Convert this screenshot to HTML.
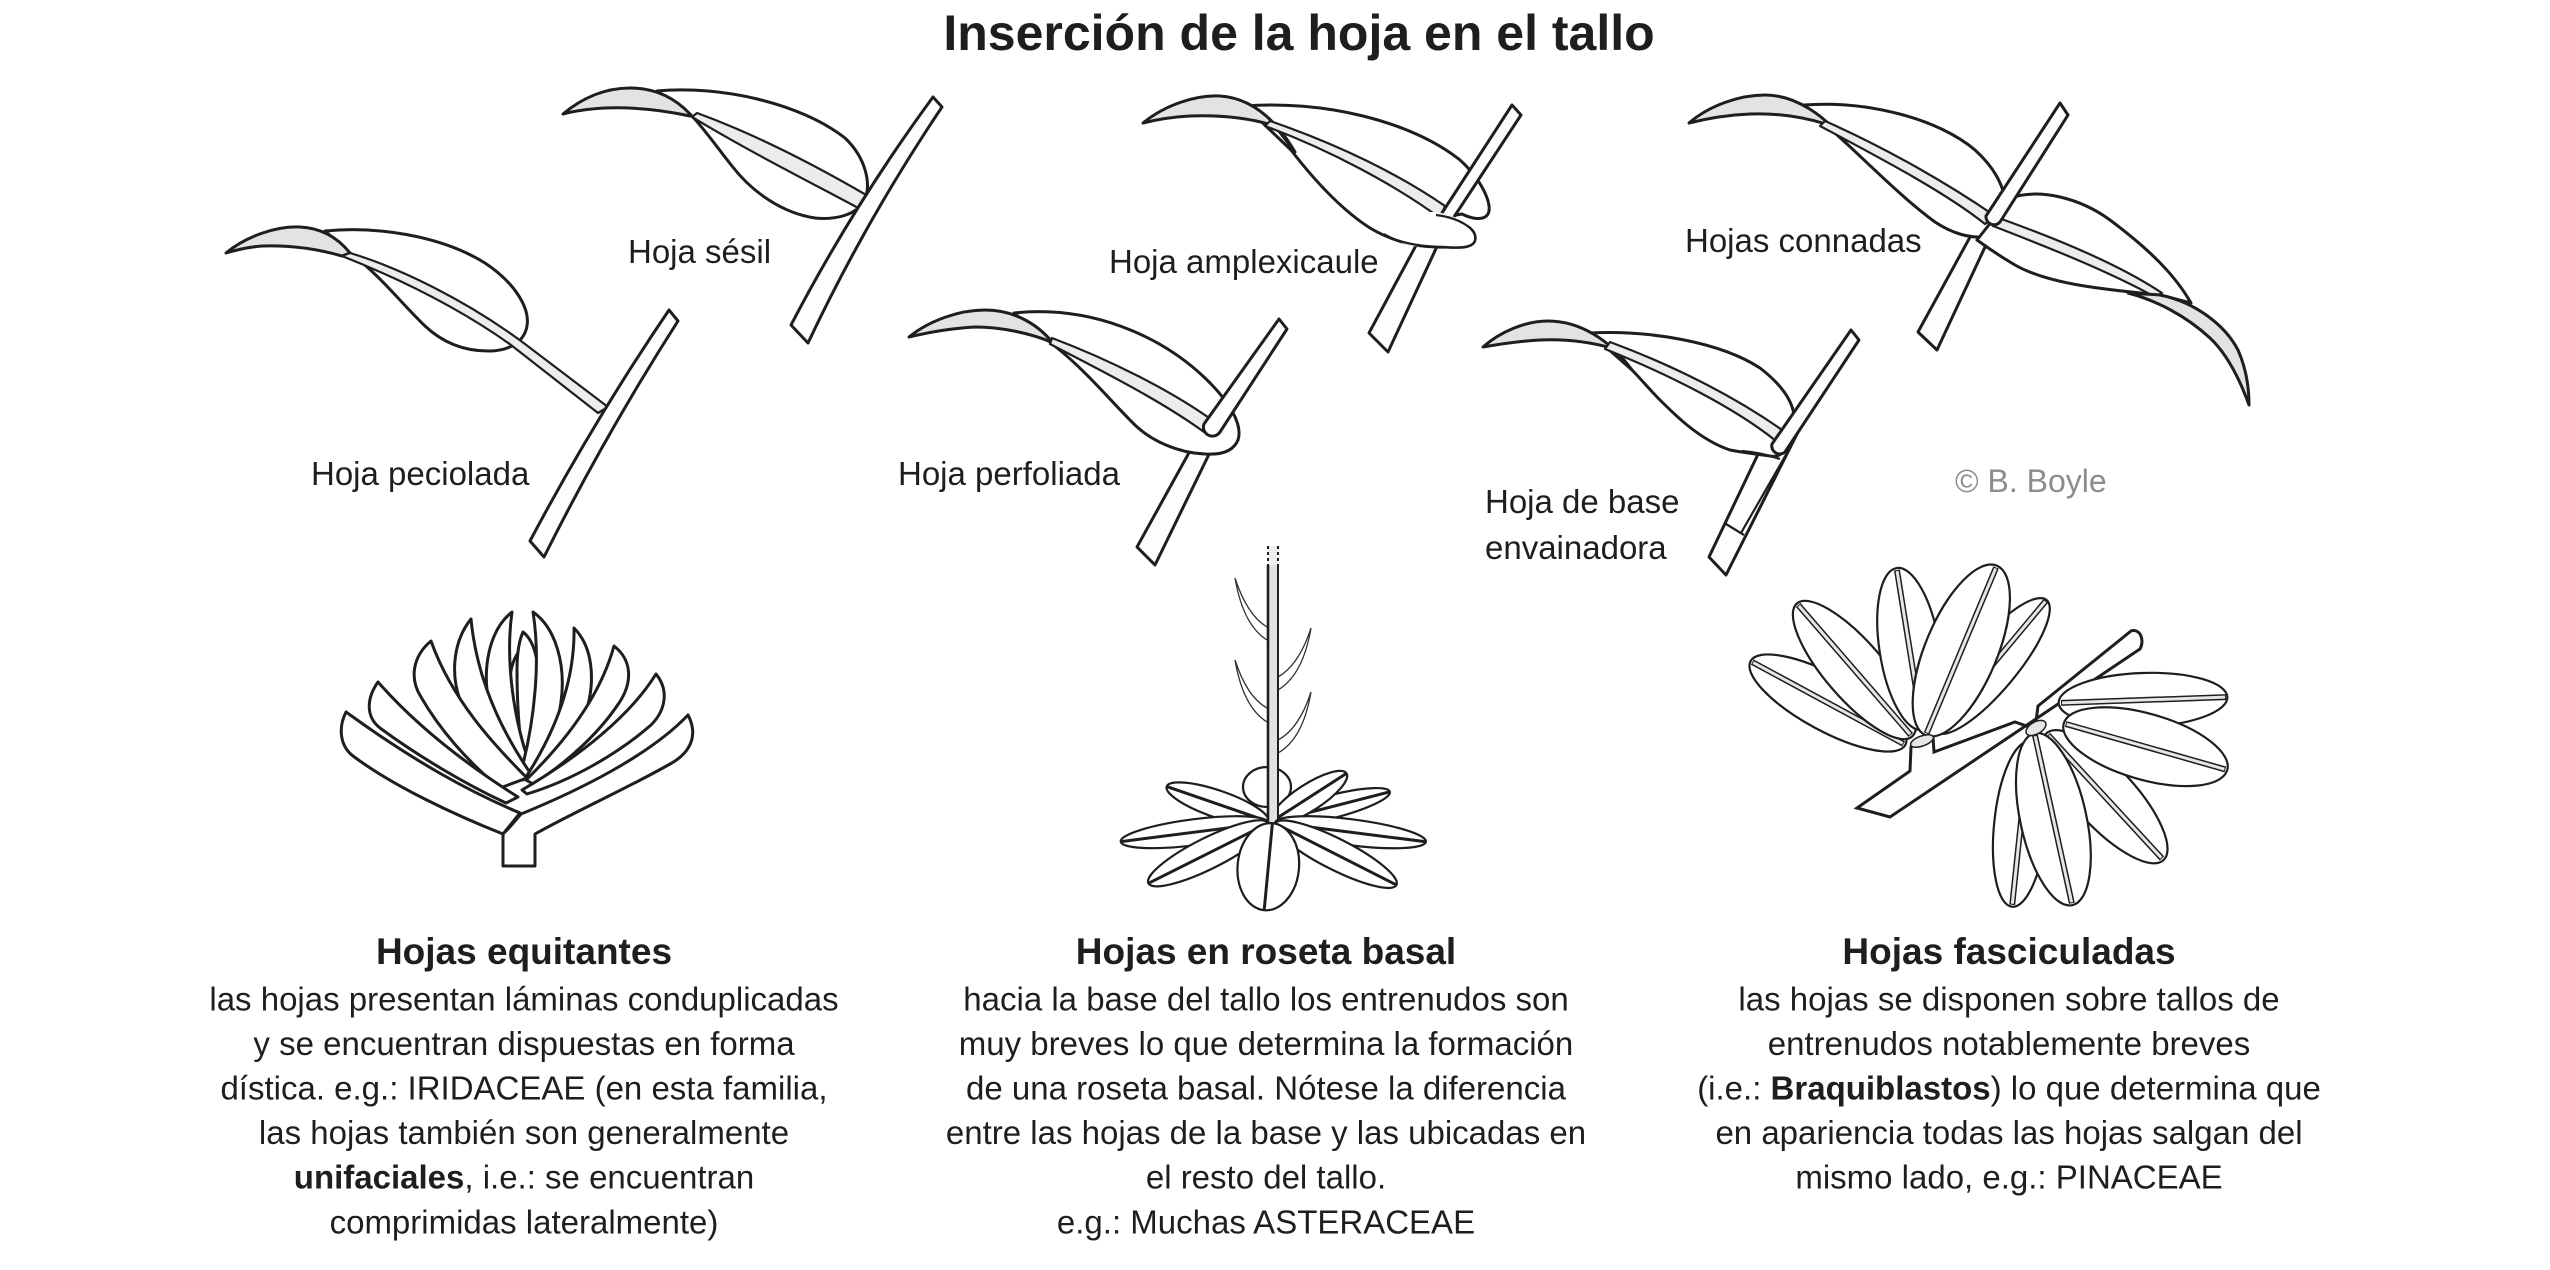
<!DOCTYPE html>
<html>
<head>
<meta charset="utf-8">
<style>
html,body{margin:0;padding:0;background:#fff;}
svg{display:block;}
.b{fill:#fff;stroke:#1e1e1e;stroke-width:3;stroke-linejoin:round;}
.g{fill:#e3e3e3;stroke:#1e1e1e;stroke-width:3;stroke-linejoin:round;}
.m{fill:#ececec;stroke:#1e1e1e;stroke-width:2.2;stroke-linejoin:round;}
.s{fill:#fdfdfb;stroke:#1e1e1e;stroke-width:3;stroke-linejoin:round;}
.ln{fill:none;stroke:#1e1e1e;stroke-width:2.2;}
.e{fill:#fff;stroke:#1e1e1e;stroke-width:3;stroke-linejoin:round;}
.r{fill:#fff;stroke:#1e1e1e;stroke-width:2.2;}
.th{fill:none;stroke:#333;stroke-width:1.3;}
.rib1{stroke:#1e1e1e;stroke-width:3;stroke-linecap:round;}
.rib2{stroke:#1e1e1e;stroke-width:6;stroke-linecap:butt;}
.rib3{stroke:#e6e6e6;stroke-width:3;stroke-linecap:butt;}
text{font-family:"Liberation Sans",Arial,Helvetica,sans-serif;fill:#1e1e1e;}
</style>
</head>
<body>
<svg width="2550" height="1270" viewBox="0 0 2550 1270" xmlns="http://www.w3.org/2000/svg">
<rect x="0" y="0" width="2550" height="1270" fill="#fff"/>

<!-- Title -->
<text x="1299" y="50" font-size="50" font-weight="bold" text-anchor="middle">Inserción de la hoja en el tallo</text>

<!-- ========== Hoja peciolada ========== -->
<path class="b" d="M325,231 C375,226 440,235 485,263 C515,283 530,308 527,326 C524,343 508,351 488,351 C462,351 442,342 425,326 C400,302 380,275 350,253 Z"/>
<path class="g" d="M226,253 C245,237 275,226 300,227 C322,228 338,238 350,253 L342,256 C318,249 290,245 262,246 C248,247 236,250 226,253 Z"/>
<path class="m" d="M350,253 C400,268 465,300 521,341 L608,407 L598,413 L511,345 C455,305 390,275 342,256 Z"/>
<path class="s" d="M669,310 L678,321 Q605,435 544,557 L530,541 Q593,422 669,310 Z"/>

<!-- ========== Hoja sésil ========== -->
<path class="b" d="M657,91 C720,85 800,103 845,138 C866,158 872,185 864,201 C856,215 836,220 815,218 C782,213 752,192 732,166 C716,146 703,127 690,114 Z"/>
<path class="g" d="M563,114 C582,98 605,88 630,88 C655,88 675,98 690,114 L690,116 C662,110 632,107 605,108 C588,109 574,111 563,114 Z"/>
<path class="m" d="M697,113 C760,136 820,168 868,196 L862,210 C810,182 750,152 692,117 Z"/>
<path class="s" d="M933,97 L942,107 Q866,220 808,343 L791,325 Q853,206 933,97 Z"/>

<!-- ========== Hoja perfoliada ========== -->
<path class="s" d="M1196,440 L1215,442 L1155,565 L1137,547 Z"/>
<path class="b" d="M1014,313 C1090,305 1160,335 1205,378 C1230,402 1243,425 1238,440 C1233,452 1220,455 1205,454 C1180,453 1150,442 1130,420 C1110,400 1085,370 1056,347 Z"/>
<path class="g" d="M909,337 C930,320 960,310 985,310 C1015,310 1040,325 1056,347 L1051,342 C1030,333 1000,327 975,327 C955,328 930,332 909,337 Z"/>
<path class="m" d="M1052,338 C1110,360 1170,390 1212,420 L1204,432 C1160,400 1100,370 1050,344 Z"/>
<path class="s" d="M1279,319 L1287,329 L1220,432 A9,9 0 0 1 1204,424 Z"/>

<!-- ========== Hoja amplexicaule ========== -->
<path class="s" d="M1420,238 L1440,240 L1388,352 L1369,333 Z"/>
<path class="b" d="M1245,106 C1320,100 1410,120 1460,160 C1482,180 1493,205 1488,214 C1484,221 1472,219 1462,214 L1440,218 C1462,220 1477,229 1475,240 C1473,248 1460,248 1445,247 C1415,248 1390,240 1370,228 C1345,212 1318,185 1291,150 Z"/>
<path class="g" d="M1143,123 C1165,105 1195,95 1220,96 C1250,98 1275,118 1295,152 L1275,126 C1250,118 1220,115 1190,116 C1170,117 1155,120 1143,123 Z"/>
<path class="m" d="M1270,121 C1340,145 1400,175 1445,206 L1440,218 C1395,185 1330,150 1265,126 Z"/>
<path class="s" d="M1512,105 L1521,115 L1452,220 A8,8 0 0 1 1440,216 Z"/>
<path d="M1436,212 C1460,216 1478,228 1475,240 C1473,249 1458,248 1445,247 L1410,246 C1398,242 1390,236 1384,231 L1420,212 Z" fill="#fff" stroke="none"/>
<path class="ln" stroke-width="3" d="M1436,215 C1460,218 1477,229 1475,240 C1473,248 1460,248 1445,247 C1425,247 1400,244 1384,234"/>

<!-- ========== Hojas connadas ========== -->
<path class="s" d="M1975,228 L1992,232 L1937,350 L1918,332 Z"/>
<path class="b" d="M1804,105 C1870,100 1940,120 1975,150 C1995,168 2002,185 2004,195 L1990,236 C1970,240 1950,232 1935,222 C1905,200 1875,170 1846,143 Z"/>
<path class="g" d="M1689,123 C1710,105 1740,95 1765,95 C1795,95 1825,115 1846,143 L1826,124 C1800,116 1775,113 1750,114 C1725,115 1705,119 1689,123 Z"/>
<path class="m" d="M1825,121 C1890,150 1950,185 1995,216 L1985,224 C1945,192 1880,158 1820,126 Z"/>
<path class="b" d="M2010,198 C2040,188 2080,198 2110,220 C2150,250 2175,275 2191,303 L2160,295 C2110,290 2050,285 2015,265 C1998,255 1988,248 1977,240 Z"/>
<path class="m" d="M1996,217 C2060,240 2120,265 2162,293 L2155,297 C2110,272 2050,248 1993,226 Z"/>
<path class="g" d="M2128,293 C2140,294 2150,294 2160,295 C2195,302 2225,325 2238,350 C2246,368 2249,388 2249,405 C2240,380 2228,355 2210,338 C2185,315 2155,300 2128,293 Z"/>
<path class="s" d="M2060,103 L2068,115 L2000,222 A8,8 0 0 1 1986,216 Z"/>

<!-- ========== Hoja de base envainadora ========== -->
<path class="s" d="M1760,450 L1709,557 L1726,575 L1798,432 Z"/>
<path class="ln" d="M1791,446 L1741,533"/>
<path class="ln" d="M1726,524 L1744,535"/>
<path class="b" d="M1590,333 C1650,330 1720,342 1760,368 C1782,385 1792,400 1794,415 L1790,440 C1785,452 1780,458 1770,456 C1755,454 1740,452 1730,450 C1700,440 1675,415 1660,400 C1650,390 1640,378 1632,370 Z"/>
<path class="g" d="M1483,347 C1500,332 1525,321 1548,321 C1580,321 1610,340 1632,370 L1611,348 C1590,342 1565,339 1540,340 C1520,341 1500,344 1483,347 Z"/>
<path class="m" d="M1610,342 C1680,368 1740,400 1785,432 L1776,441 C1735,408 1670,375 1605,349 Z"/>
<path class="s" d="M1851,330 L1859,340 L1785,452 A8,8 0 0 1 1772,444 Z"/>
<path class="ln" stroke-width="3" d="M1742,451 C1756,452 1768,455 1780,459"/>

<!-- Labels -->
<text x="311" y="485" font-size="33">Hoja peciolada</text>
<text x="628" y="263" font-size="33">Hoja sésil</text>
<text x="1109" y="273" font-size="33">Hoja amplexicaule</text>
<text x="898" y="485" font-size="33">Hoja perfoliada</text>
<text x="1685" y="252" font-size="33">Hojas connadas</text>
<text x="1485" y="513" font-size="33">Hoja de base</text>
<text x="1485" y="559" font-size="33">envainadora</text>
<text x="1955" y="492" font-size="32" style="fill:#8c8c8c">© B. Boyle</text>

<!-- ========== Hojas equitantes ========== -->
<path class="e" d="M521,649 C511,660 507,680 511,708 C514,735 519,755 524,768 Z"/>
<path class="e" d="M523,632 C536,642 541,668 537,702 C534,732 528,755 524,768 C519,735 517,700 517,670 C517,652 519,641 523,632 Z"/>
<path class="e" d="M512,612 C489,630 481,670 490,707 C499,739 514,763 528,778 L531,768 C514,722 505,662 512,612 Z"/>
<path class="e" d="M533,612 C556,628 566,665 561,702 C556,737 540,766 523,780 L522,768 C534,722 541,662 533,612 Z"/>
<path class="e" d="M471,619 C454,640 450,672 460,700 C474,733 497,760 522,779 L531,774 C504,735 477,682 471,619 Z"/>
<path class="e" d="M574,628 C594,648 597,687 582,722 C568,750 549,766 530,781 L526,777 C555,732 575,682 574,628 Z"/>
<path class="e" d="M431,641 C413,656 409,678 421,697 C440,730 468,762 500,788 L527,778 C494,745 452,700 431,641 Z"/>
<path class="e" d="M614,646 C632,660 633,682 619,703 C599,733 568,762 533,784 L526,780 C565,742 600,697 614,646 Z"/>
<path class="e" d="M378,682 C366,699 366,717 380,728 C418,756 465,784 506,803 L518,797 C472,768 420,730 378,682 Z"/>
<path class="e" d="M656,674 C669,690 666,710 651,725 C619,753 573,780 527,794 L522,790 C580,756 630,716 656,674 Z"/>
<path class="e" d="M346,712 C338,728 340,746 353,756 C393,786 455,815 503,834 L520,813 C470,792 415,762 346,712 Z"/>
<path class="e" d="M688,715 C698,734 692,752 670,764 C628,788 578,810 535,834 L535,866 L503,866 L503,834 L509,828 L521,814 C580,790 650,755 688,715 Z"/>

<!-- ========== Roseta basal ========== -->
<path class="th" d="M1235,578 Q1243,625 1267,640 M1235,578 Q1247,615 1267,627"/>
<path class="th" d="M1235,660 Q1243,707 1267,722 M1235,660 Q1247,697 1267,708"/>
<path class="th" d="M1311,628 Q1303,675 1278,690 M1311,628 Q1299,665 1278,677"/>
<path class="th" d="M1311,692 Q1303,739 1278,753 M1311,692 Q1299,729 1278,740"/>
<ellipse class="r" cx="1267" cy="787" rx="24" ry="20"/>
<g transform="translate(1331.7,806.7) rotate(-14.4)"><ellipse class="r" cx="0" cy="0" rx="60" ry="11.5"/><line class="rib1" x1="-58" y1="0" x2="58" y2="0" stroke-width="2.4"/></g>
<g transform="translate(1309,797.5) rotate(-32.8)"><ellipse class="r" cx="0" cy="0" rx="44.6" ry="13.3"/><line class="rib1" x1="-42" y1="0" x2="43" y2="0" stroke-width="2.4"/></g>
<g transform="translate(1217.5,804) rotate(19)"><ellipse class="r" cx="0" cy="0" rx="53.7" ry="13.5"/><line class="rib1" x1="-52" y1="0" x2="52" y2="0" stroke-width="2.4"/></g>
<rect x="1268" y="565" width="10" height="257" fill="#e2e2e2"/>
<line x1="1268" y1="565" x2="1268" y2="822" stroke="#1e1e1e" stroke-width="2.6"/>
<line x1="1278" y1="565" x2="1278" y2="822" stroke="#1e1e1e" stroke-width="2"/>
<rect x="1268" y="546" width="10" height="19" fill="#eeeeee"/>
<line x1="1268" y1="546" x2="1268" y2="565" stroke="#1e1e1e" stroke-width="2" stroke-dasharray="3,3"/>
<line x1="1278" y1="546" x2="1278" y2="565" stroke="#1e1e1e" stroke-width="2" stroke-dasharray="3,3"/>
<g transform="translate(1194.5,832.2) rotate(-7.3)"><ellipse class="r" cx="0" cy="0" rx="74.4" ry="13"/><line class="rib1" x1="-72" y1="0" x2="72" y2="0" stroke-width="2.4"/></g>
<g transform="translate(1350.5,832.2) rotate(7.2)"><ellipse class="r" cx="0" cy="0" rx="76" ry="13"/><line class="rib1" x1="-74" y1="0" x2="74" y2="0" stroke-width="2.4"/></g>
<g transform="translate(1208.3,853.3) rotate(-26.6)"><ellipse class="r" cx="0" cy="0" rx="67" ry="15.5"/><line class="rib1" x1="-65" y1="0" x2="65" y2="0" stroke-width="2.4"/></g>
<g transform="translate(1335.8,854.2) rotate(26.9)"><ellipse class="r" cx="0" cy="0" rx="68" ry="15.5"/><line class="rib1" x1="-66" y1="0" x2="66" y2="0" stroke-width="2.4"/></g>
<g transform="translate(1268.3,866.7) rotate(5.4)"><ellipse class="r" cx="0" cy="0" rx="30.7" ry="43.7"/><line class="rib1" x1="0" y1="-42" x2="0" y2="43" stroke-width="2.2"/></g>

<!-- ========== Hojas fasciculadas ========== -->
<g transform="translate(1991.4,666) rotate(-50.1)"><ellipse class="r" cx="0" cy="0" rx="86" ry="25"/><line class="rib2" x1="-84" y1="0" x2="85" y2="0"/><line class="rib3" x1="-83" y1="0" x2="84" y2="0"/></g>
<g transform="translate(1828,703) rotate(28.4)"><ellipse class="r" cx="0" cy="0" rx="88" ry="28"/><line class="rib2" x1="-86" y1="0" x2="86" y2="0"/><line class="rib3" x1="-85" y1="0" x2="85" y2="0"/></g>
<g transform="translate(1854.5,670) rotate(49.1)"><ellipse class="r" cx="0" cy="0" rx="88" ry="29"/><line class="rib2" x1="-86" y1="0" x2="86" y2="0"/><line class="rib3" x1="-85" y1="0" x2="85" y2="0"/></g>
<g transform="translate(1909.6,649) rotate(80.9)"><ellipse class="r" cx="0" cy="0" rx="82" ry="30"/><line class="rib2" x1="-80" y1="0" x2="80" y2="0"/><line class="rib3" x1="-79" y1="0" x2="79" y2="0"/></g>
<g transform="translate(1961.3,650.5) rotate(-67.3)"><ellipse class="r" cx="0" cy="0" rx="92" ry="36"/><line class="rib2" x1="-90" y1="0" x2="90" y2="0"/><line class="rib3" x1="-89" y1="0" x2="89" y2="0"/></g>
<path fill="#fdfdfb" stroke="#1e1e1e" stroke-width="3" stroke-linejoin="miter" d="M1857,808 L1910,771 L1911,747 C1915,740 1928,735 1933,737 L1934,752 L2015,722 L2035,729 L2038,706 L2131,631 C2140,628 2145,640 2140,649 L1890,817 Z"/>
<ellipse cx="1922" cy="741" rx="12" ry="5" fill="#e6e6e6" stroke="#1e1e1e" stroke-width="1.5" transform="rotate(-20 1922 741)"/>
<g transform="translate(2143,700) rotate(-2)"><ellipse class="r" cx="0" cy="0" rx="84.4" ry="27"/><line class="rib2" x1="-82" y1="0" x2="83" y2="0"/><line class="rib3" x1="-81" y1="0" x2="82" y2="0"/></g>
<g transform="translate(2105,796.7) rotate(47.3)"><ellipse class="r" cx="0" cy="0" rx="86.3" ry="30"/><line class="rib2" x1="-84" y1="0" x2="84" y2="0"/><line class="rib3" x1="-83" y1="0" x2="83" y2="0"/></g>
<g transform="translate(2020.7,824.2) rotate(96)"><ellipse class="r" cx="0" cy="0" rx="83" ry="26.5"/><line class="rib2" x1="-81" y1="0" x2="81" y2="0"/><line class="rib3" x1="-80" y1="0" x2="80" y2="0"/></g>
<g transform="translate(2145.5,746.7) rotate(15.9)"><ellipse class="r" cx="0" cy="0" rx="85" ry="33"/><line class="rib2" x1="-83" y1="0" x2="83" y2="0"/><line class="rib3" x1="-82" y1="0" x2="82" y2="0"/></g>
<g transform="translate(2053.4,819.2) rotate(77.6)"><ellipse class="r" cx="0" cy="0" rx="88" ry="33"/><line class="rib2" x1="-86" y1="0" x2="86" y2="0"/><line class="rib3" x1="-85" y1="0" x2="85" y2="0"/></g>
<ellipse cx="2036" cy="728" rx="11" ry="6" fill="#e6e6e6" stroke="#1e1e1e" stroke-width="1.5" transform="rotate(-30 2036 728)"/>

<!-- ========== Descriptions ========== -->
<g font-size="33" text-anchor="middle">
  <text x="524" y="964" font-size="37" font-weight="bold">Hojas equitantes</text>
  <text x="524" y="1010.7">las hojas presentan láminas conduplicadas</text>
  <text x="524" y="1055.2">y se encuentran dispuestas en forma</text>
  <text x="524" y="1099.7">dística. e.g.: IRIDACEAE (en esta familia,</text>
  <text x="524" y="1144.2">las hojas también son generalmente</text>
  <text x="524" y="1188.7"><tspan font-weight="bold">unifaciales</tspan>, i.e.: se encuentran</text>
  <text x="524" y="1233.3">comprimidas lateralmente)</text>

  <text x="1266" y="964" font-size="37" font-weight="bold">Hojas en roseta basal</text>
  <text x="1266" y="1010.7">hacia la base del tallo los entrenudos son</text>
  <text x="1266" y="1055.2">muy breves lo que determina la formación</text>
  <text x="1266" y="1099.7">de una roseta basal. Nótese la diferencia</text>
  <text x="1266" y="1144.2">entre las hojas de la base y las ubicadas en</text>
  <text x="1266" y="1188.7">el resto del tallo.</text>
  <text x="1266" y="1233.3">e.g.: Muchas ASTERACEAE</text>

  <text x="2009" y="964" font-size="37" font-weight="bold">Hojas fasciculadas</text>
  <text x="2009" y="1010.7">las hojas se disponen sobre tallos de</text>
  <text x="2009" y="1055.2">entrenudos notablemente breves</text>
  <text x="2009" y="1099.7">(i.e.: <tspan font-weight="bold">Braquiblastos</tspan>) lo que determina que</text>
  <text x="2009" y="1144.2">en apariencia todas las hojas salgan del</text>
  <text x="2009" y="1188.7">mismo lado, e.g.: PINACEAE</text>
</g>
</svg>
</body>
</html>
